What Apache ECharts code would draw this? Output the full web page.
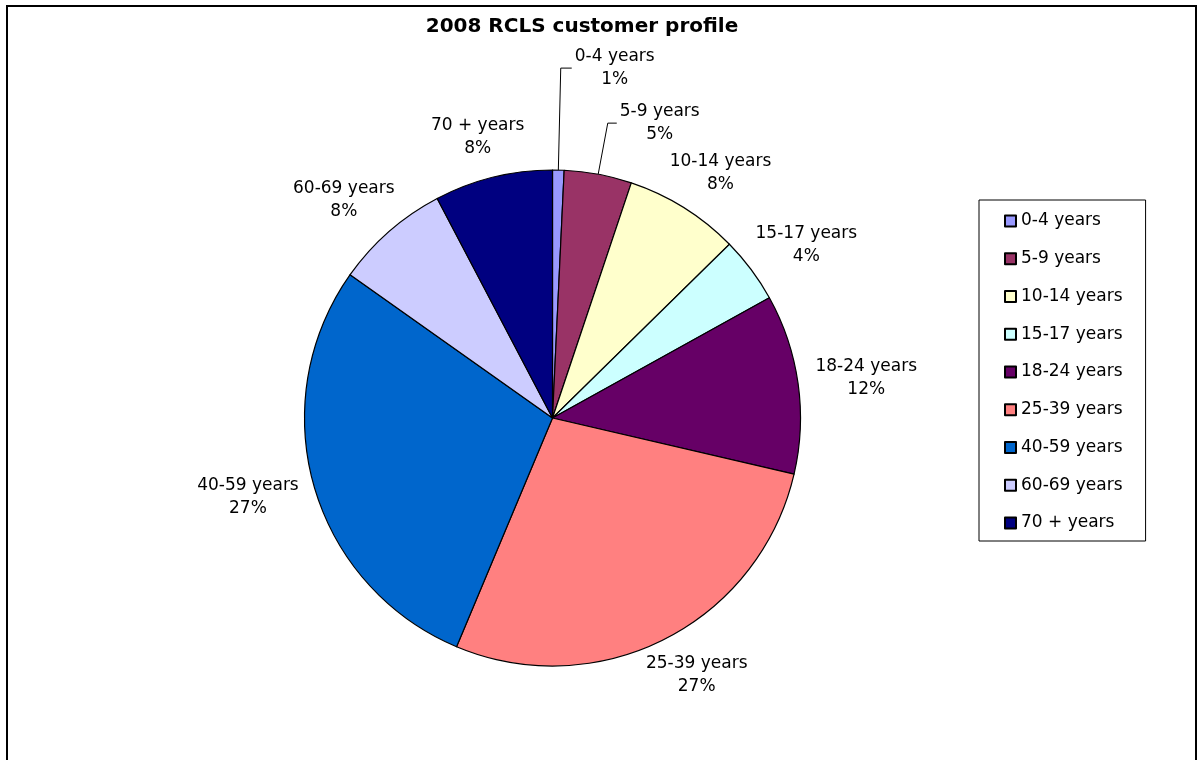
<!DOCTYPE html>
<html>
<head>
<meta charset="utf-8">
<script src="https://cdn.jsdelivr.net/npm/echarts@6/dist/echarts.min.js"></script>
<style>
html,body{margin:0;padding:0;background:#fff;}
#chart{width:1198px;height:760px;}
</style>
</head>
<body>
<div id="chart"></div>
<script>
// Age groups (categories)
const categories = ['0-4 years','5-9 years','10-14 years','15-17 years','18-24 years','25-39 years','40-59 years','60-69 years','70 + years'];
// Slice sizes (share of customers, %)
const shares = [0.75, 4.4, 7.5, 4.3, 11.7, 27.7, 28.5, 7.5, 7.7];
// Percent labels as printed on the chart
const shownPercents = [1, 5, 8, 4, 12, 27, 27, 8, 8];
const colors = ['#9999FF','#993366','#FFFFCC','#CCFFFF','#660066','#FF8080','#0066CC','#CCCCFF','#000080'];

const FONT = 'DejaVu Sans';
const leaderLines = {
  '0-4 years': {length: 102, length2: 11},
  '5-9 years': {length: 52, length2: 9}
};

const chart = echarts.init(document.getElementById('chart'), null, {renderer: 'canvas'});

const data = categories.map(function (name, i) {
  const item = {name: name, value: shares[i], itemStyle: {color: colors[i]}};
  if (leaderLines[name]) {
    item.labelLine = {show: true, length: leaderLines[name].length, length2: leaderLines[name].length2,
      lineStyle: {color: '#000', width: 1, opacity: 1}};
  }
  return item;
});

chart.setOption({
  backgroundColor: '#fff',
  animation: false,
  title: {
    text: '2008 RCLS customer profile',
    left: 577,
    top: 12,
    textAlign: 'center',
    textStyle: {fontFamily: FONT, fontWeight: 'bold', fontSize: 20, color: '#000'}
  },
  graphic: [{
    type: 'rect',
    shape: {x: 7, y: 6, width: 1189, height: 800},
    style: {fill: 'none', stroke: '#000', lineWidth: 2},
    silent: true
  }],
  legend: {
    orient: 'vertical',
    left: 979,
    top: 200,
    padding: [11, 23, 8, 25],
    itemWidth: 11,
    itemHeight: 11,
    itemGap: 17.75,
    icon: 'rect',
    borderColor: '#000',
    borderWidth: 1,
    backgroundColor: '#fff',
    data: categories,
    textStyle: {fontFamily: FONT, fontSize: 17, color: '#000', lineHeight: 20}
  },
  series: [{
    type: 'pie',
    center: [552.5, 418],
    radius: 248,
    startAngle: 90,
    clockwise: true,
    avoidLabelOverlap: false,
    itemStyle: {borderColor: '#000', borderWidth: 1.2},
    emphasis: {disabled: true},
    label: {
      show: true,
      position: 'outside',
      fontFamily: FONT,
      fontSize: 17,
      lineHeight: 23,
      color: '#000',
      distanceToLabelLine: 4,
      formatter: function (p) { return p.name + '\n' + shownPercents[p.dataIndex] + '%'; }
    },
    labelLine: {show: true, length: 18, length2: 0, lineStyle: {opacity: 0}},
    labelLayout: function (p) {
      const pts = p.labelLinePoints;
      if (!pts) return {};
      const w = p.labelRect.width, h = p.labelRect.height;
      if (leaderLines[categories[p.dataIndex]]) {
        // label sits to the right of the leader line's end, lines centred
        return {
          x: pts[2][0] + 3 + w / 2,
          y: pts[2][1],
          align: 'center',
          verticalAlign: 'middle',
          labelLinePoints: pts
        };
      }
      let ux = pts[1][0] - pts[0][0], uy = pts[1][1] - pts[0][1];
      const n = Math.hypot(ux, uy) || 1;
      ux /= n; uy /= n;
      return {
        x: pts[1][0] + ux * w / 2,
        y: pts[1][1] + uy * h / 2,
        align: 'center',
        verticalAlign: 'middle',
        labelLinePoints: pts
      };
    },
    data: data
  }]
});
</script>
</body>
</html>
